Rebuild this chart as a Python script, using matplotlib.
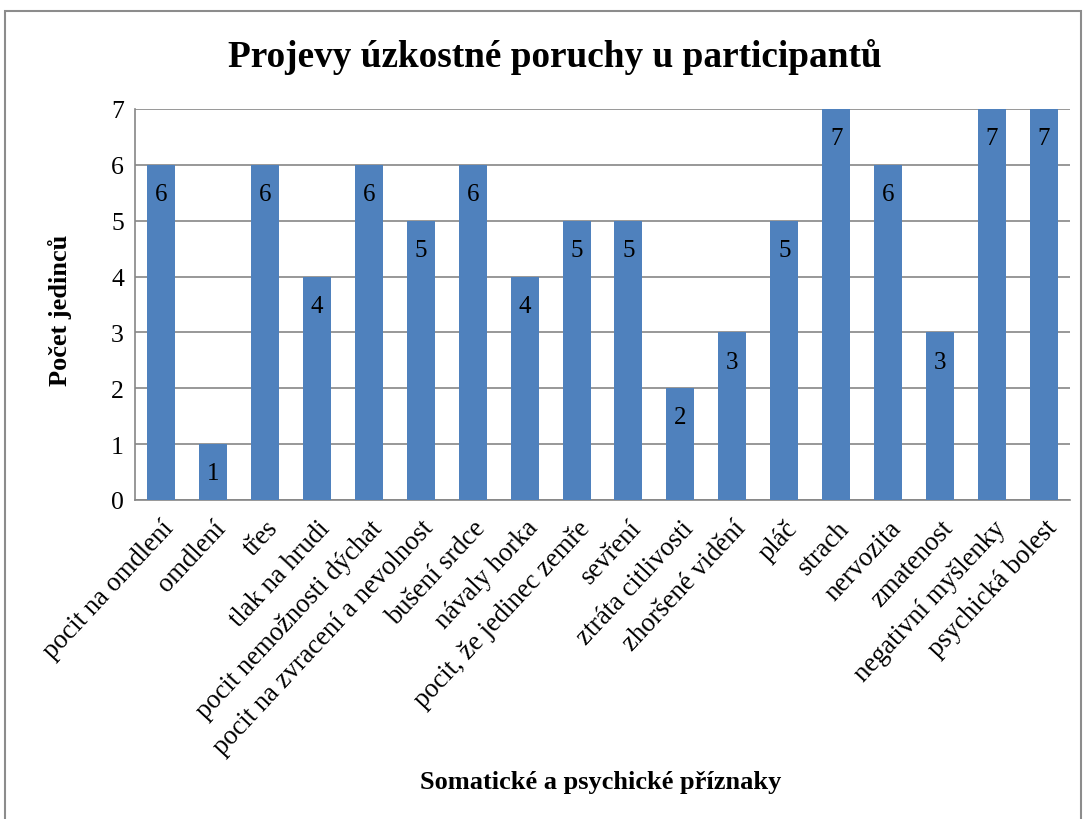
import matplotlib
matplotlib.use("Agg")
import matplotlib.pyplot as plt
from matplotlib.patches import Rectangle

categories = ["pocit na omdlení", "omdlení", "třes", "tlak na hrudi",
              "pocit nemožnosti dýchat", "pocit na zvracení a nevolnost",
              "bušení srdce", "návaly horka", "pocit, že jedinec zemře",
              "sevření", "ztráta citlivosti", "zhoršené vidění", "pláč",
              "strach", "nervozita", "zmatenost", "negativní myšlenky",
              "psychická bolest"]
values = [6, 1, 6, 4, 6, 5, 6, 4, 5, 5, 2, 3, 5, 7, 6, 3, 7, 7]
yticks = [0, 1, 2, 3, 4, 5, 6, 7]

title = "Projevy úzkostné poruchy u participantů"
xlabel = "Somatické a psychické příznaky"
ylabel = "Počet jedinců"

plt.rcParams['font.family'] = ['Liberation Serif', 'DejaVu Serif']

W, H = 1086, 820
fig = plt.figure(figsize=(W/100, H/100), dpi=100)
ax = fig.add_axes([135/W, 1-501/H, (1070-135)/W, (501-110)/H])

bar_color = "#4F81BD"
grid_color = "#868686"

x = list(range(len(categories)))
ax.bar(x, values, width=0.54, color=bar_color, zorder=3)
ax.set_xlim(-0.5, len(categories)-0.5)
ax.set_ylim(0, 7)
ax.set_yticks(yticks)
ax.set_yticklabels([str(t) for t in yticks], fontsize=18.5)
ax.yaxis.grid(True, color=grid_color, linewidth=1.2, zorder=0)
ax.set_xticks(x)
ax.set_xticklabels(categories, rotation=47, ha='right', rotation_mode='anchor',
                   fontsize=19.2)
ax.tick_params(axis='both', length=0, pad=8)
ax.tick_params(axis='x', pad=11)

for s in ['top', 'right']:
    ax.spines[s].set_visible(False)
for s in ['left', 'bottom']:
    ax.spines[s].set_color(grid_color)
    ax.spines[s].set_linewidth(1.2)

for xi, v in zip(x, values):
    ax.annotate(str(v), (xi, v), xytext=(0, -21), textcoords='offset points',
                ha='center', va='center', fontsize=18, zorder=4)

fig.text(555/W, 1-57/H, title, ha='center', va='center', fontsize=26.8,
         fontweight='bold')
fig.text(601/W, 1-783/H, xlabel, ha='center', va='center', fontsize=19,
         fontweight='bold')
fig.text(60/W, 1-310/H, ylabel, ha='center', va='center', fontsize=19,
         fontweight='bold', rotation=90)

fig.patches.append(Rectangle((5/W, -0.02), (1081-5)/W, 1.02-12/H,
                             transform=fig.transFigure, fill=False,
                             edgecolor="#8c8c8c", linewidth=1.5))

fig.savefig("out.png", dpi=100, facecolor='white')
